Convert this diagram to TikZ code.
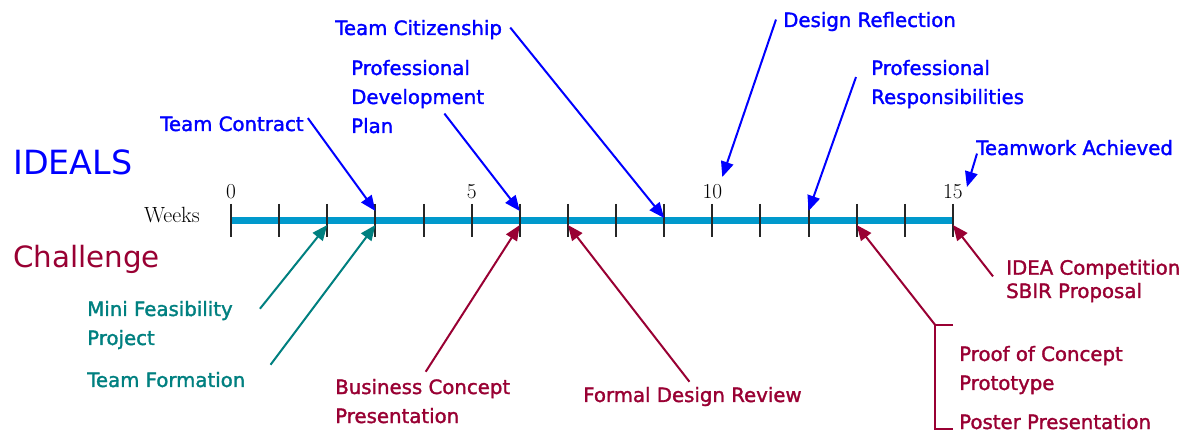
\documentclass[tikz,border=0pt]{standalone}
\usepackage{fontspec}
\usepackage{xcolor}
\usetikzlibrary{arrows.meta,calc,positioning}
\newfontfamily\handfont{DejaVu Sans}[FakeBold=1.6]
\newfontfamily\titlefont{DejaVu Sans}
\definecolor{idealblue}{RGB}{0,0,255}
\definecolor{formteal}{RGB}{0,128,128}
\definecolor{challred}{RGB}{153,0,51}
\definecolor{axisblue}{RGB}{0,153,204}
\tikzset{%
	lbl/.style      = {inner sep=0pt, align=left, anchor=base west, font=\handfont\fontsize{14.8}{21.75}\selectfont},
	title/.style    = {inner sep=0pt, anchor=base west, font=\titlefont\fontsize{25}{30}\selectfont},
	num/.style      = {inner sep=0pt, anchor=base, font=\fontsize{16}{18}\selectfont}, % week numbers
	axis/.style     = {axisblue, line width=5.25pt}, % time line
	tick/.style     = {black!85, line width=1.5pt},
	pointer/.style  = {line width=1.5pt, -{Triangle[length=11.5pt,width=9.5pt]}},
	ideal/.style    = {pointer, idealblue},
	team/.style     = {pointer, formteal},
	chall/.style    = {pointer, challred},
}

\begin{document}
\begin{tikzpicture}[x=0.75pt,y=-0.75pt]
	\useasboundingbox[fill=white] (0,0) rectangle (1193,438);
	
	% weeks 0..15 along the line
	\foreach \i in {0,...,15} {
		\coordinate (w\i) at (231+48.13*\i,221);
		\coordinate (up\i) at ($(w\i)+(0,-10)$);
		\coordinate (dn\i) at ($(w\i)+(0,4)$);
	}
	\draw[axis] (w0) -- (w15);
	\foreach \i in {0,...,15}
		\draw[tick] ($(w\i)+(0,-17)$) -- ($(w\i)+(0,16)$);
	\foreach \n in {0,5,10,15}
		\node[num] at ($(w\n)+(0,-22)$) {\n};
	\node [num,anchor=base east,font=\fontsize{16.5}{18}\selectfont] (weeks) at ($(w0)+(-31,2)$) {Weeks};
	
	% the two tracks
	\node [title,idealblue] (ideals) at (13,175) {IDEALS};
	\node [title,challred,font=\titlefont\fontsize{22}{26}\selectfont] (challenge) at (13,268) {Challenge};
	
	% IDEALS milestones (base = last line)
	\node [lbl,idealblue] (contract) at (160,131) {Team Contract};
	\node [lbl,idealblue] (pdp) at (351,133) {Professional\\Development\\Plan};
	\node [lbl,idealblue] (citizen) at (335,35) {Team Citizenship};
	\node [lbl,idealblue] (reflect) at (783,27) {Design Reflection};
	\node [lbl,idealblue] (resp) at (871,104) {Professional\\Responsibilities};
	\node [lbl,idealblue] (achieved) at (976,155) {Teamwork Achieved};
	
	\draw[ideal] ($(contract.north east)+(4,2)$) -- (up3);
	\draw[ideal] ($(pdp.south east)+(-40,-20)$) -- (up6);
	\draw[ideal] ($(citizen.east)+(8,-2)$) -- ($(w9)+(0,-3)$);
	\draw[ideal] ($(reflect.west)+(-7,-2)$) -- ($(w10)+(10,-44)$);
	\draw[ideal] ($(resp.west)+(-15,-7)$) -- (up12);
	\draw[ideal] ($(achieved.south west)+(1,-2)$) -- ($(w15)+(14,-34)$);
	
	% Challenge milestones
	\node [lbl,formteal] (mini) at (87,345) {Mini Feasibility\\Project};
	\node [lbl,formteal] (formation) at (87,387) {Team Formation};
	\node [lbl,challred] (business) at (335,423) {Business Concept\\Presentation};
	\node [lbl,challred] (review) at (583,402) {Formal Design Review};
	\node [lbl,challred,font=\handfont\fontsize{14.8}{17.5}\selectfont] (idea) at (1006,298) {IDEA Competition\\SBIR Proposal};
	\node [lbl,challred] (proof) at (959,390) {Proof of Concept\\Prototype};
	\node [lbl,challred] (poster) at (959,429) {Poster Presentation};
	
	\draw[team] ($(mini.north east)+(27,8)$) -- (dn2);
	\draw[team] ($(formation.north east)+(25,-7)$) -- (dn3);
	\draw[chall] ($(business.north)+(3,-7)$) -- (dn6);
	\draw[chall] ($(review.north)+(-3,-5)$) -- (dn7);
	\draw[chall] ($(idea.north west)+(-13,17)$) -- (dn15);
	
	% bracket holding the last two
	\coordinate (brtop) at ($(proof.north west)+(-24,-21)$);
	\coordinate (brbot) at ($(poster.base west)+(-24,0)$);
	\draw[challred,line width=1.5pt] ($(brtop)+(18,0)$) -- (brtop) -- (brbot) -- ($(brbot)+(18,0)$);
	\draw[chall] (brtop) -- (dn13);
	
\end{tikzpicture}
\end{document}
